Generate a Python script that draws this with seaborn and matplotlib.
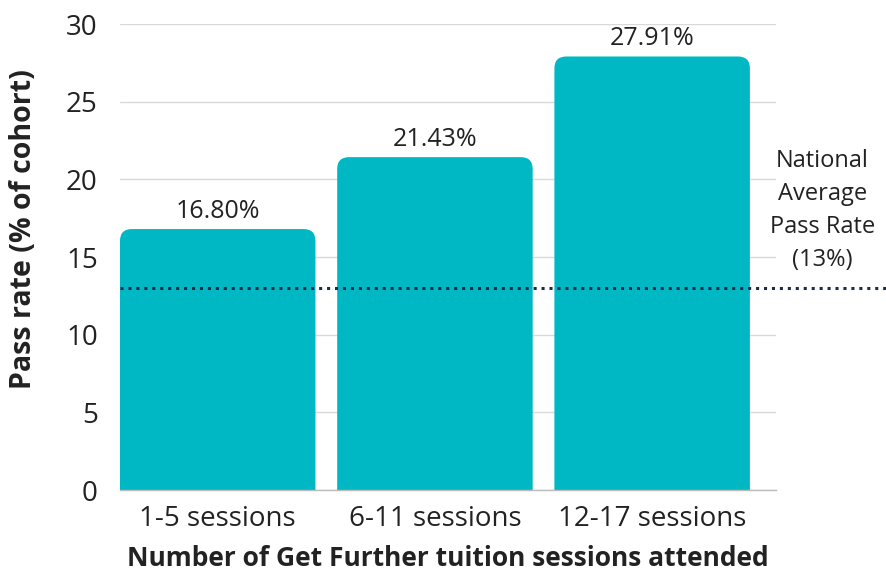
import matplotlib
matplotlib.use("Agg")
import matplotlib.pyplot as plt
from matplotlib.patches import FancyBboxPatch
import seaborn as sns
import pandas as pd

categories = ["1-5 sessions", "6-11 sessions", "12-17 sessions"]
pass_rates = [16.80, 21.43, 27.91]
bar_labels = ["16.80%", "21.43%", "27.91%"]
national_average = 13
national_label = "National\nAverage\nPass Rate\n(13%)"
y_ticks = [0, 5, 10, 15, 20, 25, 30]

BAR_COLOR = "#00B8C4"
LINE_COLOR = "#1E2A4A"
TEXT_COLOR = "#222222"

sns.set_theme(style="white")
plt.rcParams["font.family"] = ["Open Sans", "DejaVu Sans"]

df = pd.DataFrame({"category": categories, "rate": pass_rates})

fig = plt.figure(figsize=(8.86, 5.83), dpi=100)
ax = fig.add_axes([0.1354, 0.1595, 0.7404, 0.7993])

sns.barplot(data=df, x="category", y="rate", color=BAR_COLOR, width=0.9,
            saturation=1, ax=ax, zorder=3)

ax.set_xlim(-0.45, 2.57)
ax.set_ylim(0, 30)

# Replace square bars with bars whose top corners are rounded
r_x = 0.055
r_y = 0.77
for patch in list(ax.patches):
    x0 = patch.get_x()
    w = patch.get_width()
    h = patch.get_height()
    patch.set_visible(False)
    rounded = FancyBboxPatch((x0, -2), w, h + 2,
                             boxstyle=f"round,pad=0,rounding_size={r_x}",
                             mutation_aspect=r_y / r_x,
                             facecolor=BAR_COLOR, edgecolor="none",
                             zorder=3, clip_on=True)
    ax.add_patch(rounded)

# Value labels above each bar
for i, (v, lab) in enumerate(zip(pass_rates, bar_labels)):
    ax.annotate(lab, (i, v), xytext=(0, 4), textcoords="offset points",
                ha="center", va="bottom", fontsize=18, color=TEXT_COLOR)

# National average reference line, running out to the right edge
ax.plot([-0.45, 3.6], [national_average, national_average], linestyle=(0, (1, 1.6)),
        color=LINE_COLOR, linewidth=2.2, clip_on=False, zorder=4)
ax.text(2.785, 18.0, national_label, ha="center", va="center", fontsize=17,
        color=TEXT_COLOR, linespacing=1.5, clip_on=False)

ax.set_yticks(y_ticks)
ax.yaxis.grid(True, color="#D9D9D9", linewidth=1)
ax.set_axisbelow(True)
for side in ["top", "right", "left"]:
    ax.spines[side].set_visible(False)
ax.spines["bottom"].set_color("#BBBBBB")
ax.spines["bottom"].set_linewidth(1)
ax.spines["bottom"].set_zorder(5)

ax.tick_params(axis="y", length=0, pad=16, labelsize=20, labelcolor=TEXT_COLOR)
ax.tick_params(axis="x", length=0, pad=11, labelsize=20, labelcolor=TEXT_COLOR)

ax.set_xlabel("Number of Get Further tuition sessions attended", fontsize=19,
              fontweight="bold", color=TEXT_COLOR)
ax.set_ylabel("Pass rate (% of cohort)", fontsize=20.5, fontweight="bold",
              color=TEXT_COLOR)
ax.xaxis.set_label_coords(0.5, -0.118)
ax.yaxis.set_label_coords(-0.125, 0.56)

fig.savefig("out.png", dpi=100)
